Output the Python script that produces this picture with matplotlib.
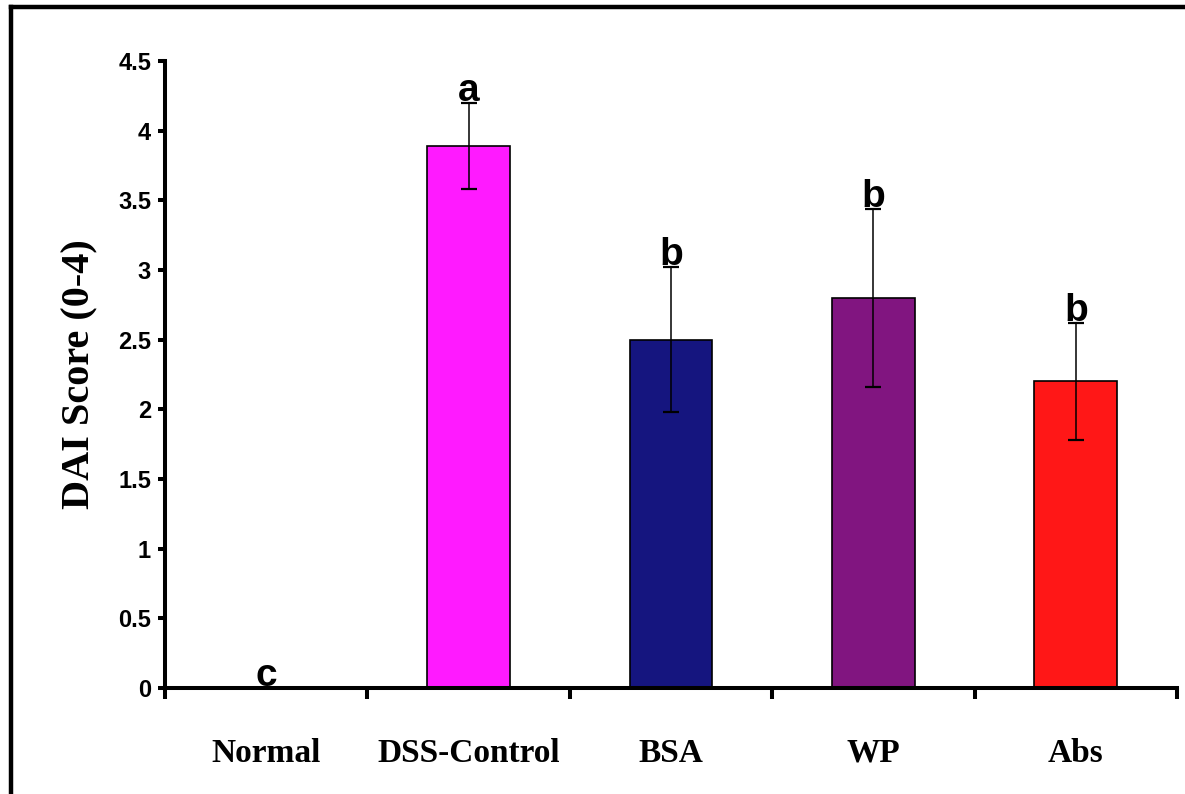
import matplotlib
matplotlib.use("Agg")
import matplotlib.pyplot as plt
from matplotlib.lines import Line2D

groups = ["Normal", "DSS-Control", "BSA", "WP", "Abs"]
dai = [0.0, 3.89, 2.50, 2.80, 2.20]
sem = [0.0, 0.31, 0.52, 0.64, 0.42]
letters = ["c", "a", "b", "b", "b"]
colors = ["#FFFFFF", "#FF1AFF", "#15157F", "#811580", "#FF1717"]
yticks = [0, 0.5, 1, 1.5, 2, 2.5, 3, 3.5, 4, 4.5]
ytick_labels = ["0", "0.5", "1", "1.5", "2", "2.5", "3", "3.5", "4", "4.5"]

W, H = 1185, 794
fig = plt.figure(figsize=(W / 100, H / 100), dpi=100)
ax = fig.add_axes([165 / W, 1 - 688 / H, (1177 - 165) / W, (688 - 61) / H])

x = list(range(len(groups)))
ax.bar(x, dai, width=0.41, color=colors, edgecolor="black", linewidth=1.2, zorder=2)
# no bar for Normal (value is 0), skip its error bar
ax.errorbar(x[1:], dai[1:], yerr=sem[1:], fmt="none", ecolor="black",
            elinewidth=1.1, capsize=5.8, capthick=1.6, zorder=3)

for i in x:
    ax.annotate(letters[i], (i, dai[i] + sem[i]), xytext=(0, 1.5), textcoords="offset points",
                ha="center", va="baseline", fontsize=28, fontweight="bold",
                family="Liberation Sans")

ax.set_xlim(-0.5, 4.5)
ax.set_ylim(0, 4.5)

ax.spines["top"].set_visible(False)
ax.spines["right"].set_visible(False)
ax.spines["left"].set_linewidth(2.9)
ax.spines["bottom"].set_linewidth(2.9)

ax.set_yticks(yticks)
ax.set_yticklabels(ytick_labels, fontsize=17, fontweight="bold", family="Liberation Sans")
ax.tick_params(axis="y", direction="out", length=5, width=2.9, pad=5)

ax.set_xticks(x)
ax.set_xticklabels(groups, fontsize=24, fontweight="bold", family="Liberation Serif")
ax.tick_params(axis="x", which="major", length=0, pad=36)
ax.set_xticks([i - 0.5 for i in range(len(groups) + 1)], minor=True)
ax.tick_params(axis="x", which="minor", direction="out", length=8, width=2.9)

ax.set_ylabel("DAI Score (0-4)", fontsize=29, fontweight="bold", family="Liberation Serif",
              labelpad=14)

# outer frame, only left and top edges are visible in the crop
fig.add_artist(Line2D([11 / W, 11 / W], [0, 1 - 7 / H], color="black", linewidth=3.2))
fig.add_artist(Line2D([11 / W, 1], [1 - 7 / H, 1 - 7 / H], color="black", linewidth=3.2))

fig.savefig("out.png", dpi=100)
